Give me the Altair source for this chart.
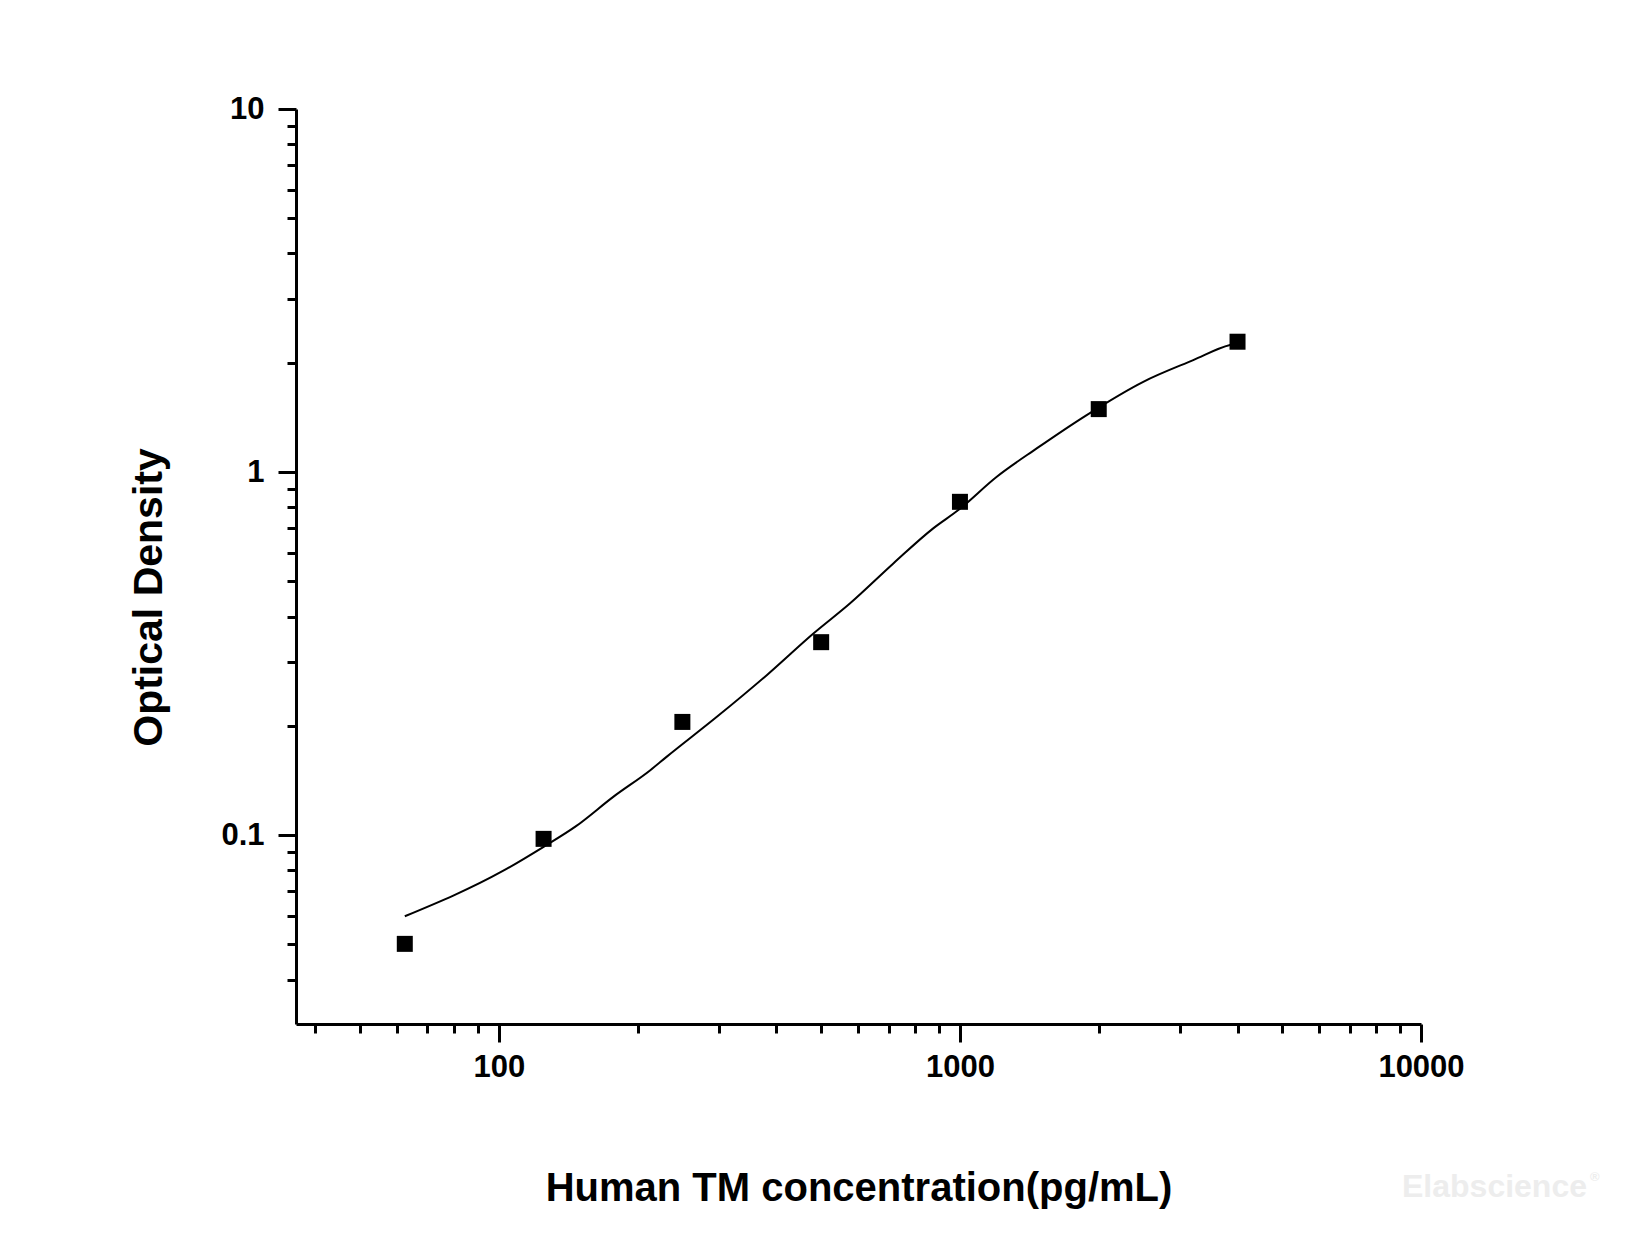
import altair as alt
import pandas as pd

# ---- data ----
conc = [62.5, 125, 250, 500, 1000, 2000, 4000]
od = [0.0502, 0.0977, 0.2051, 0.3401, 0.8282, 1.491, 2.286]

curve_conc = [62.5, 102, 125, 147, 177, 213, 231, 297, 381, 481, 577, 717,
              875, 992, 1202, 1467, 1883, 2498, 3206, 3852, 4000]
curve_od = [0.0598, 0.0797, 0.0929, 0.1059, 0.1275, 0.151, 0.1643, 0.2118,
            0.2759, 0.3594, 0.4347, 0.5604, 0.70, 0.786, 0.971, 1.162, 1.436,
            1.773, 2.034, 2.238, 2.26]

x_major = [100, 1000, 10000]
x_minor = [40, 50, 60, 70, 80, 90, 200, 300, 400, 500, 600, 700, 800, 900,
           2000, 3000, 4000, 5000, 6000, 7000, 8000, 9000]
y_major = [0.1, 1, 10]
y_minor = [0.04, 0.05, 0.06, 0.07, 0.08, 0.09, 0.2, 0.3, 0.4, 0.5, 0.6, 0.7,
           0.8, 0.9, 2, 3, 4, 5, 6, 7, 8, 9]

x_title = "Human TM concentration(pg/mL)"
y_title = "Optical Density"
watermark = ["Elabscience"]
watermark_sup = ["®"]

FONT = "Liberation Sans"

pts_df = pd.DataFrame({"conc": conc, "od": od})
curve_df = pd.DataFrame({"conc": curve_conc, "od": curve_od})

xscale = alt.Scale(type="log", domain=[36.3, 10000], nice=False)
yscale = alt.Scale(type="log", domain=[0.0302, 10], nice=False)

line = alt.Chart(curve_df).mark_line(
    color="black", strokeWidth=2, interpolate="monotone"
).encode(
    x=alt.X("conc:Q", scale=xscale,
            axis=alt.Axis(orient="bottom", values=x_minor, labels=False,
                          domain=False, grid=False, tickSize=9, tickWidth=3,
                          tickColor="black", title=None)),
    y=alt.Y("od:Q", scale=yscale,
            axis=alt.Axis(orient="left", values=y_minor, labels=False,
                          domain=False, grid=False, tickSize=9, tickWidth=3,
                          tickColor="black", title=None)),
)

points = alt.Chart(pts_df).mark_square(
    size=256, color="black", opacity=1
).encode(
    x=alt.X("conc:Q", scale=xscale,
            axis=alt.Axis(orient="bottom", values=x_major, format="d",
                          grid=False, tickSize=18, tickWidth=3,
                          tickColor="black", domainWidth=3,
                          domainColor="black", labelFont=FONT,
                          labelFontSize=31, labelFontWeight="bold",
                          labelColor="black", labelPadding=10,
                          labelFlush=False, labelOverlap=False,
                          title=x_title, titleFont=FONT, titleFontSize=40,
                          titleFontWeight="bold", titleColor="black",
                          titleX=562.5, titleY=176, titleAlign="center",
                          titleBaseline="alphabetic")),
    y=alt.Y("od:Q", scale=yscale,
            axis=alt.Axis(orient="left", values=y_major, format="~g",
                          grid=False, tickSize=18, tickWidth=3,
                          tickColor="black", domainWidth=3,
                          domainColor="black", labelFont=FONT,
                          labelFontSize=31, labelFontWeight="bold",
                          labelColor="black", labelPadding=14,
                          labelFlush=False, labelOverlap=False,
                          title=y_title, titleFont=FONT, titleFontSize=41,
                          titleFontWeight="bold", titleColor="black",
                          titleX=-135, titleY=488, titleAngle=270,
                          titleAlign="center", titleBaseline="alphabetic")),
)

wm = alt.Chart(pd.DataFrame({"t": watermark})).mark_text(
    align="left", baseline="alphabetic", fontSize=32, fontWeight="bold",
    font=FONT, color="#ededed"
).encode(x=alt.value(1106), y=alt.value(1088), text="t:N")

wm_sup = alt.Chart(pd.DataFrame({"t": watermark_sup})).mark_text(
    align="left", baseline="alphabetic", fontSize=13, fontWeight="bold",
    font=FONT, color="#ededed"
).encode(x=alt.value(1294), y=alt.value(1072), text="t:N")

chart = alt.layer(line, points, wm, wm_sup).resolve_axis(
    x="independent", y="independent"
).properties(
    width=1125, height=915,
    padding={"left": 288, "top": 101, "right": 200, "bottom": 200},
    autosize=alt.AutoSizeParams(type="none"),
    background="white",
).configure_view(stroke="transparent")

chart.save("out.html", embed_options={"renderer": "svg", "actions": False})
